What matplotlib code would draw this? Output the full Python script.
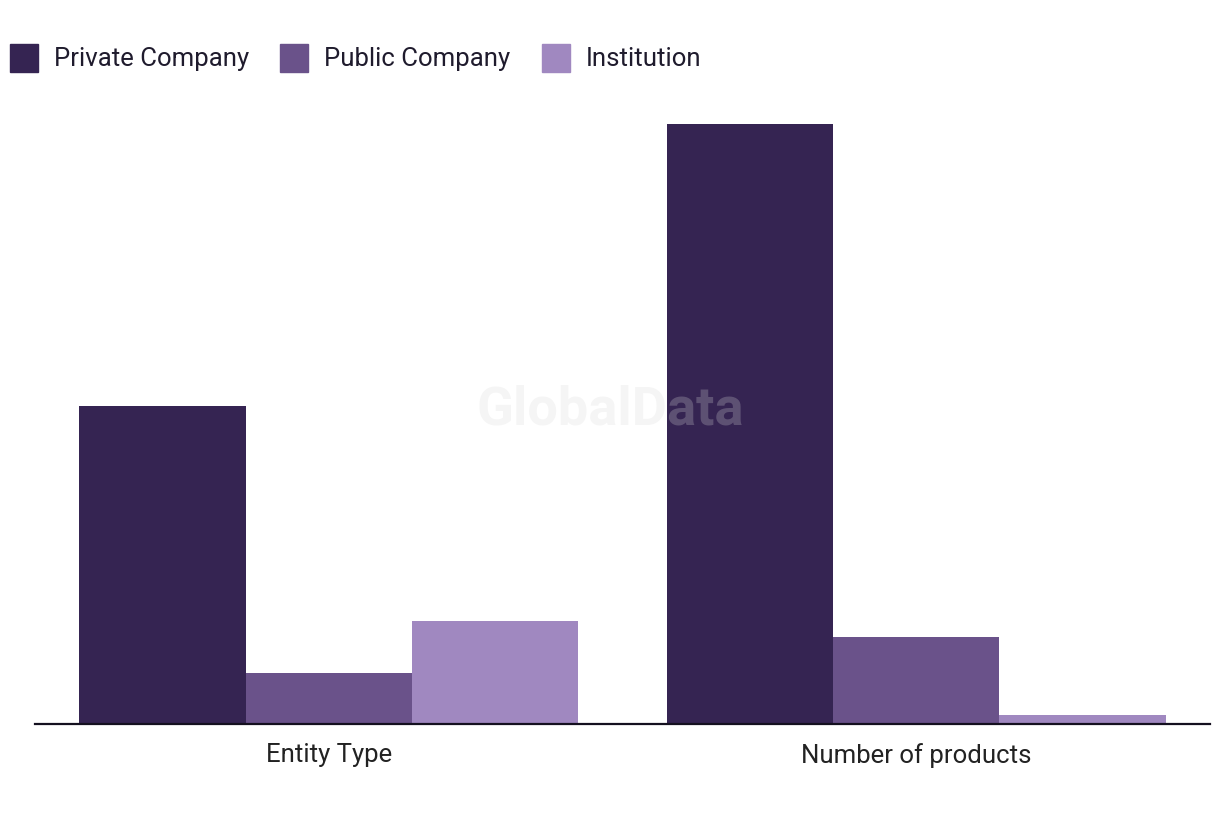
import numpy as np
import matplotlib.pyplot as plt
from matplotlib.patches import Rectangle

categories = ['Entity Type', 'Number of products']
series = ['Private Company', 'Public Company', 'Institution']
private_vals = [62, 117]
public_vals = [10, 17]
institution_vals = [20, 1.8]
colors = ['#352452', '#6a528a', '#a088c0']


def main():
    plt.rcParams['font.family'] = ['Roboto', 'DejaVu Sans']
    fig = plt.figure(figsize=(12.2, 8.2), dpi=100)
    ax = fig.add_axes([35 / 1220, 1 - 725 / 820, 1175 / 1220, 623 / 820])

    x = np.arange(len(categories))
    w = 0.85 / 3
    data = [private_vals, public_vals, institution_vals]
    for i, vals in enumerate(data):
        ax.bar(x + (i - 1) * w, vals, width=w, color=colors[i], linewidth=0)

    ax.set_xlim(-0.5, 1.5)
    ax.set_ylim(0, 121.4)
    ax.set_yticks([])
    ax.set_xticks(x)
    ax.set_xticklabels(categories, fontsize=18.5, color='#222222')
    ax.tick_params(axis='x', length=0, pad=13)
    for s in ['top', 'right', 'left']:
        ax.spines[s].set_visible(False)
    ax.spines['bottom'].set_color('#14101f')
    ax.spines['bottom'].set_linewidth(1.6)

    # legend drawn by hand
    lx = [10, 280, 542]
    for i, name in enumerate(series):
        fig.patches.append(Rectangle((lx[i] / 1220, 1 - 73 / 820), 28 / 1220, 28 / 820,
                                     transform=fig.transFigure, color=colors[i]))
        fig.text((lx[i] + 44) / 1220, 1 - 59 / 820, name, fontsize=18.5,
                 color='#1f1b2d', va='center', ha='left')

    # watermark
    fig.text(610 / 1220, 1 - 410 / 820, 'GlobalData', fontsize=39, fontweight='bold',
             color='#d8d8d8', alpha=0.25, ha='center', va='center')

    fig.savefig('out.png', dpi=100)


if __name__ == "__main__":
    main()
